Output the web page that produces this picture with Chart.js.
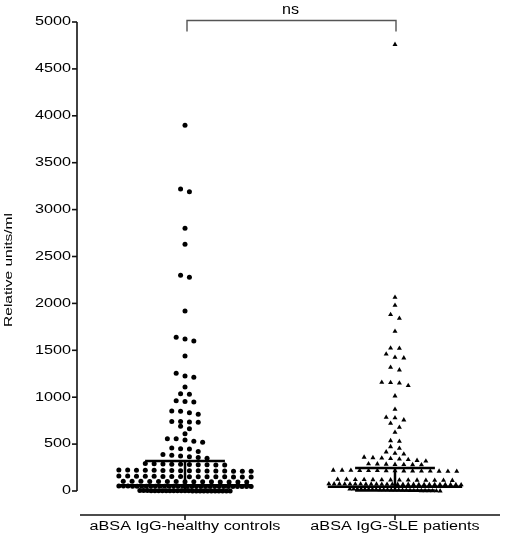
<!DOCTYPE html>
<html>
<head>
<meta charset="utf-8">
<script src="https://cdn.jsdelivr.net/npm/chart.js@4.4.1/dist/chart.umd.min.js"></script>
<style>
  html, body { margin: 0; padding: 0; background: #fff; }
  #wrap { width: 510px; height: 546px; position: relative; }
</style>
</head>
<body>
<div id="wrap"><canvas id="dotCanvas"></canvas></div>
<script>
// ---------------- DATA ----------------
const categories = ['aBSA IgG-healthy controls', 'aBSA IgG-SLE patients'];
const yTicks = [0, 500, 1000, 1500, 2000, 2500, 3000, 3500, 4000, 4500, 5000];
const yTitle = 'Relative units/ml';
const sigLabel = 'ns';

const healthyControls = [
  3900, 3220, 3190, 2800, 2630, 2300, 2280, 1920, 1640, 1620, 1600, 1440,
  1255, 1225, 1212, 1110, 1037, 1031, 963, 955, 949, 853, 850, 835, 818,
  742, 740, 735, 733, 690, 664, 611, 558, 556, 545, 530, 520, 458, 451, 448, 420,
  389, 380, 372, 365, 358, 350,
  292, 290, 288, 286, 285, 283, 281, 280, 278, 276,
  225, 224, 222, 221, 220, 219, 218, 217, 216, 215, 214, 213, 212, 211, 210, 210,
  160, 159, 158, 157, 156, 155, 155, 154, 153, 152, 152, 151, 151, 150, 150, 150,
  105, 104, 103, 102, 101, 100, 100, 99, 99, 98, 98, 97, 97, 96, 95,
  52, 52, 52, 51, 51, 51, 51, 50, 50, 50, 50, 50, 50, 50, 50,
  49, 49, 49, 49, 49, 49, 48, 48, 48, 48, 48, 48, 48, 48, 48,
  4, 4, 4, 3, 3, 3, 3, 3, 2, 2, 2, 2, 2, 2, 1, 1, 1, 1, 1, 1, 0, 0, 0, 0, 0
];

const slePatients = [
  4760, 2065, 1980, 1880, 1840, 1702, 1524, 1520, 1460, 1425, 1418, 1319, 1290,
  1159, 1155, 1150, 1123, 1013, 871, 785, 780, 757, 721, 679, 626, 536, 530,
  472, 455, 416, 402, 394,
  360, 355, 350, 345, 340, 335, 325, 318,
  290, 288, 285, 283, 282, 280, 278,
  222, 221, 220, 219, 218, 217, 216, 215, 214, 213, 212, 212, 211, 210, 210,
  125, 124, 122, 121, 120, 119, 118, 117, 116, 115, 114, 113, 113, 112,
  76, 75, 75, 74, 74, 73, 73, 72, 72, 72, 71, 71, 71, 70, 70, 70, 70,
  69, 69, 69, 68, 68, 68, 67, 67, 66,
  22, 21, 20, 19, 18, 17, 16, 15, 14, 13, 12, 11, 10, 9, 8, 7, 6, 5, 4, 3, 3, 2, 1, 1, 0
];

// median with interquartile range
const medians = [60, 45];
const lowerQuartiles = [6, 6];
const upperQuartiles = [320, 245];

// ---------------- SWARM LAYOUT ----------------
const BIN = 45;          // values closer than this share a row
const SPACING = 0.042;   // x units between neighbours in a row
const MAX_SPAN = 0.63;   // widest a row may get
const BASE_SPAN = 0.43;  // the lowest row is squeezed narrower

function swarm(values, center) {
  const sorted = [...values].sort((a, b) => b - a);
  const bins = [];
  sorted.forEach(v => {
    const last = bins[bins.length - 1];
    if (last && last[0] - v < BIN) last.push(v);
    else bins.push([v]);
  });
  const pts = [];
  bins.forEach((bin, b) => {
    const n = bin.length;
    const span = b === bins.length - 1 ? BASE_SPAN : MAX_SPAN;
    const step = n > 1 ? Math.min(SPACING, span / (n - 1)) : 0;
    bin.forEach((v, i) => pts.push({ x: center + (i - (n - 1) / 2) * step, y: v }));
  });
  return pts;
}

function segment(x0, x1, y0, y1) {
  return {
    type: 'line',
    data: [{ x: x0, y: y0 }, { x: x1, y: y1 }],
    borderColor: '#000',
    borderWidth: 2.5,
    pointRadius: 0,
    clip: false,
    order: 0
  };
}

const summaryLines = [];
[0, 1].forEach(i => {
  const c = i + 1;
  summaryLines.push(segment(c - 0.19, c + 0.19, upperQuartiles[i], upperQuartiles[i]));
  summaryLines.push(segment(c, c, lowerQuartiles[i], upperQuartiles[i]));
  summaryLines.push(segment(c - 0.32, c + 0.32, medians[i], medians[i]));
  summaryLines.push(segment(c - 0.19, c + 0.19, lowerQuartiles[i], lowerQuartiles[i]));
});

// ---------------- AXES / TEXT PLUGIN ----------------
const STRETCH = 1.35;
function wideText(ctx, text, x, y, align, size, rot) {
  ctx.save();
  ctx.translate(x, y);
  if (rot) ctx.rotate(rot);
  ctx.scale(STRETCH, 1);
  ctx.font = size + 'px "Liberation Sans", Arial, sans-serif';
  ctx.fillStyle = '#000';
  ctx.textAlign = align;
  ctx.textBaseline = 'middle';
  ctx.fillText(text, 0, 0);
  ctx.restore();
}

const prismAxes = {
  id: 'prismAxes',
  afterDraw(chart) {
    const { ctx, chartArea, scales: { x, y } } = chart;
    ctx.save();
    ctx.strokeStyle = '#111';
    ctx.lineWidth = 1.6;

    // y axis
    const axX = chartArea.left - 3;
    ctx.beginPath();
    ctx.moveTo(axX, y.getPixelForValue(yTicks[yTicks.length - 1]));
    ctx.lineTo(axX, y.getPixelForValue(0));
    ctx.stroke();
    yTicks.forEach(v => {
      const py = y.getPixelForValue(v);
      ctx.beginPath();
      ctx.moveTo(axX - 5, py);
      ctx.lineTo(axX, py);
      ctx.stroke();
      wideText(ctx, String(v), axX - 6, py, 'right', 12);
    });
    wideText(ctx, yTitle, 9, 270, 'center', 11.5, -Math.PI / 2);

    // x axis (detached below zero)
    const baseY = y.getPixelForValue(0) + 24;
    ctx.beginPath();
    ctx.moveTo(chartArea.left, baseY);
    ctx.lineTo(chartArea.right, baseY);
    ctx.stroke();
    categories.forEach((c, i) => {
      const px = x.getPixelForValue(i + 1);
      ctx.beginPath();
      ctx.moveTo(px, baseY);
      ctx.lineTo(px, baseY + 5);
      ctx.stroke();
      wideText(ctx, c, px, baseY + 12, 'center', 12);
    });

    // significance bracket
    const x1 = x.getPixelForValue(1) + 2;
    const x2 = x.getPixelForValue(2) + 1;
    const top = chartArea.top - 1.5;
    ctx.strokeStyle = '#555';
    ctx.lineWidth = 1.4;
    ctx.beginPath();
    ctx.moveTo(x1, top + 11);
    ctx.lineTo(x1, top);
    ctx.lineTo(x2, top);
    ctx.lineTo(x2, top + 11);
    ctx.stroke();
    ctx.save();
    ctx.translate((x1 + x2) / 2 - 1, top - 10);
    ctx.scale(1.15, 1);
    ctx.font = '14px "Liberation Sans", Arial, sans-serif';
    ctx.fillStyle = '#000';
    ctx.textAlign = 'center';
    ctx.textBaseline = 'middle';
    ctx.fillText(sigLabel, 0, 0);
    ctx.restore();
    ctx.restore();
  }
};

// ---------------- CHART ----------------
const config = {
  type: 'scatter',
  data: {
    datasets: [
      {
        label: categories[0],
        data: swarm(healthyControls, 1),
        pointStyle: 'circle',
        pointRadius: 2.5,
        pointBorderWidth: 0,
        backgroundColor: '#000',
        borderColor: '#000',
        clip: false,
        order: 1
      },
      {
        label: categories[1],
        data: swarm(slePatients, 2),
        pointStyle: 'triangle',
        pointRadius: 2.9,
        pointBorderWidth: 0,
        backgroundColor: '#000',
        borderColor: '#000',
        clip: false,
        order: 1
      },
      ...summaryLines
    ]
  },
  options: {
    responsive: true,
    maintainAspectRatio: false,
    animation: false,
    layout: { padding: { left: 80, right: 10, top: 22, bottom: 55 } },
    plugins: {
      legend: { display: false },
      tooltip: { enabled: false }
    },
    scales: {
      x: { type: 'linear', min: 0.5, max: 2.5, display: false },
      y: { type: 'linear', min: 0, max: 5000, display: false }
    }
  },
  plugins: [prismAxes]
};

const dotChart = new Chart(document.getElementById('dotCanvas').getContext('2d'), config);
</script>
</body>
</html>
